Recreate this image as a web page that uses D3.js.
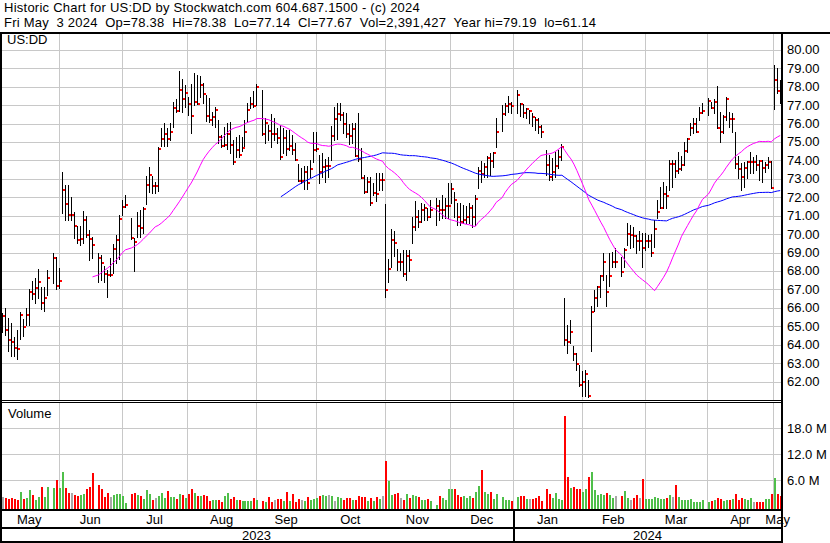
<!DOCTYPE html>
<html><head><meta charset="utf-8">
<script src="https://cdn.jsdelivr.net/npm/d3@7"></script>
<style>
body{margin:0;background:#fff}
svg{display:block}
text{font-family:"Liberation Sans",Arial,sans-serif;font-size:13px;fill:#000}
</style>
</head><body>
<svg id="c" width="830" height="543"></svg>
<script>
// ---------------- data ----------------
const startDate = [2023, 4, 5]; // first bar: Fri May 5 2023 (one slot per weekday, holidays = null)
const titleLine1 = "Historic Chart for US:DD by Stockwatch.com 604.687.1500 - (c) 2024";
const titleLine2 = "Fri May  3 2024  Op=78.38  Hi=78.38  Lo=77.14  Cl=77.67  Vol=2,391,427  Year hi=79.19  lo=61.14";
const symbolLabel = "US:DD";
const monthNames = ["Jan","Feb","Mar","Apr","May","Jun","Jul","Aug","Sep","Oct","Nov","Dec"];
const priceTicks = [62,63,64,65,66,67,68,69,70,71,72,73,74,75,76,77,78,79,80];
const volumeTicks = [6,12,18];

const highs = [
65.71,65.98,65.43,65.16,64.44,64.80,65.76,65.40,65.98,67.01,
67.44,67.64,68.11,67.15,67.13,68.07,null,68.96,68.76,68.16,
73.35,72.68,72.68,72.00,71.20,70.42,70.42,71.25,70.98,70.22,
69.83,null,69.00,68.85,68.29,68.05,68.71,69.45,69.95,71.04,
71.85,72.10,null,70.86,69.77,71.20,71.31,71.49,73.13,73.64,
73.13,72.84,74.71,75.74,76.01,75.74,76.01,77.16,77.34,78.84,
78.41,78.08,77.45,78.14,78.72,78.61,78.57,78.21,77.54,77.40,
76.60,76.91,76.19,75.37,75.83,76.01,76.06,75.10,75.25,75.37,
75.28,76.19,77.09,77.42,77.78,78.12,null,77.81,76.28,75.92,
76.50,76.28,75.74,75.92,75.77,75.65,75.65,75.37,74.92,73.78,
73.57,73.70,73.70,74.02,75.56,75.56,74.30,74.38,74.07,74.20,
75.88,76.91,77.09,77.09,76.64,76.55,76.00,76.01,76.01,76.59,
74.66,73.21,73.12,73.12,72.76,73.30,73.30,73.30,71.64,68.66,
70.27,70.14,69.18,68.97,69.15,69.15,69.15,70.95,71.77,71.31,
71.68,71.64,71.40,71.86,null,71.95,71.86,72.13,71.98,72.76,
72.76,72.31,71.68,71.68,71.59,71.50,71.68,71.59,72.13,73.66,
73.94,73.85,74.21,74.42,74.48,76.28,null,77.00,77.10,77.49,
77.19,null,77.82,77.13,77.06,76.82,76.73,76.55,76.37,76.28,
75.92,null,74.56,74.29,74.11,74.47,74.56,74.89,66.52,65.08,
65.35,63.90,63.54,62.91,62.55,62.64,62.10,66.07,66.98,67.16,
67.79,68.96,67.79,68.96,69.05,69.24,null,68.78,69.24,70.59,
70.50,70.41,69.96,70.14,70.05,70.05,69.96,70.01,70.77,71.85,
72.58,72.85,72.61,74.02,74.02,74.02,74.47,74.24,75.02,75.20,
76.05,76.28,76.28,76.91,77.09,null,77.37,77.19,77.31,78.03,
76.64,76.46,77.46,76.64,76.55,75.56,74.24,73.84,73.93,73.99,
74.47,74.20,74.29,74.02,74.02,73.93,74.17,73.97,79.19,78.99,
78.38];

const lows = [
64.71,64.53,63.63,63.41,63.41,63.23,64.31,64.49,65.09,65.09,
66.45,66.25,66.52,65.96,65.85,66.68,null,67.37,67.04,67.06,
71.13,70.77,70.77,70.77,69.81,69.54,69.41,69.54,69.86,68.61,
68.72,null,67.39,67.51,67.40,66.61,67.75,67.87,68.43,68.65,
71.04,71.49,null,69.72,68.02,69.83,69.84,70.04,71.63,72.27,
72.25,72.25,72.36,74.78,74.78,74.78,75.10,75.83,76.64,76.69,
76.64,76.91,76.46,75.46,77.00,77.04,77.45,77.09,76.12,76.10,
75.92,75.83,74.96,74.71,74.80,74.60,74.42,73.82,74.20,74.16,
74.50,74.78,76.08,76.86,76.87,77.00,null,75.37,74.92,75.10,
74.74,75.10,74.92,74.06,74.38,74.29,74.56,74.34,74.02,72.90,
72.75,72.43,72.43,73.12,73.93,74.53,72.75,73.12,72.84,73.12,
74.02,75.10,75.16,76.19,75.46,75.28,74.90,74.93,74.21,73.94,
73.03,72.25,72.31,71.59,72.13,71.77,72.40,72.40,66.58,67.38,
68.24,68.79,68.06,68.06,67.70,67.52,67.97,69.51,70.23,70.41,
70.68,70.77,70.77,70.90,null,70.50,70.77,70.86,70.86,70.86,
71.68,70.95,70.50,70.50,70.59,70.59,70.59,70.41,70.50,72.49,
72.85,73.12,73.12,73.21,73.66,74.71,null,75.61,76.46,76.63,
76.59,null,76.55,76.41,76.37,76.28,76.01,75.87,75.65,75.47,
75.25,null,73.21,72.94,72.94,73.12,73.57,74.02,64.00,63.54,
64.08,63.18,62.64,61.74,61.19,61.19,61.14,63.63,65.80,66.07,
66.61,67.52,66.07,67.16,68.24,68.24,null,67.70,68.24,69.41,
69.23,69.32,68.96,69.14,68.24,69.14,69.32,68.82,69.32,70.86,
71.40,71.40,71.40,72.40,72.58,73.12,73.30,73.48,73.75,74.47,
75.38,75.47,75.52,76.19,76.55,null,76.46,76.82,76.55,75.74,
75.02,75.47,76.19,75.83,75.56,73.57,73.03,72.40,72.58,73.03,
73.30,73.30,73.48,72.94,72.85,73.39,73.57,72.50,76.79,77.64,
77.14];

const closes = [
65.53,64.77,64.26,64.15,63.83,63.77,65.63,64.96,65.63,66.86,
66.75,67.10,67.40,66.27,66.54,67.64,null,68.72,67.19,67.46,
72.39,71.61,71.05,71.05,70.44,69.68,69.74,70.77,69.97,69.74,
69.41,null,68.72,68.45,67.86,67.78,67.78,69.19,69.70,70.82,
71.49,71.60,null,69.81,69.57,70.44,70.33,71.36,72.68,73.22,
72.63,72.63,74.60,75.17,75.43,75.17,75.56,76.86,76.69,77.83,
77.34,77.67,77.07,76.42,77.18,77.07,78.10,77.61,76.42,76.19,
76.37,76.75,75.28,74.80,74.85,75.45,74.85,73.93,74.56,74.31,
74.69,75.56,76.75,77.04,76.93,77.99,null,75.43,76.01,75.61,
75.45,75.45,75.23,74.20,75.23,74.60,74.80,74.56,74.04,72.90,
72.90,73.39,72.79,73.51,74.56,74.63,73.35,73.66,73.70,73.70,
75.32,76.26,76.51,76.48,75.95,75.45,75.34,75.71,74.26,74.08,
73.07,72.29,72.85,71.66,72.25,72.18,72.91,72.91,66.94,68.12,
69.69,69.54,68.46,68.46,67.85,68.80,68.57,70.41,70.90,70.63,
71.28,71.39,70.90,71.28,null,71.53,71.28,71.33,71.50,71.53,
72.47,71.84,70.92,70.65,70.74,70.90,71.44,70.95,71.93,73.43,
73.25,73.63,74.15,73.97,74.42,75.56,null,76.52,76.97,77.06,
76.97,null,77.56,77.06,76.59,76.77,76.68,76.37,76.19,75.83,
75.56,null,73.75,73.12,73.39,73.70,74.17,74.75,64.23,64.12,
64.66,63.51,62.96,61.79,61.95,62.39,61.19,65.75,66.51,67.12,
67.70,68.51,66.88,67.70,68.46,68.46,null,67.95,69.11,69.99,
69.96,69.92,69.65,69.65,69.22,69.65,69.65,69.00,70.30,71.20,
71.44,72.16,72.07,73.81,73.81,73.45,73.52,73.75,74.53,75.14,
75.74,75.97,75.56,76.55,76.70,null,77.24,76.86,77.19,75.78,
75.56,76.34,77.35,76.25,76.25,73.81,73.52,73.12,73.57,73.93,
73.93,73.93,73.75,73.99,73.57,73.75,73.93,72.52,78.36,77.78,
77.67];

// volume in millions of shares
const volumes = [
2.15,1.92,1.68,1.92,1.68,1.45,3.30,1.68,1.92,3.76,
2.60,1.45,2.15,4.45,2.15,4.45,null,4.22,6.07,4.22,
7.92,4.22,3.07,3.07,2.60,2.38,2.60,2.84,3.99,4.45,
7.68,null,4.91,3.99,2.15,3.07,2.15,2.60,2.84,2.84,
2.38,0.76,null,2.84,3.07,2.60,2.38,1.68,3.76,2.84,
1.45,1.92,2.38,3.07,1.92,3.53,2.15,2.15,1.68,2.84,
2.60,1.92,2.84,3.99,3.07,2.38,2.38,2.60,2.38,1.22,
1.45,1.45,1.45,0.99,2.38,3.07,1.68,2.15,1.45,1.45,
1.22,1.22,1.22,1.22,1.92,1.45,null,1.22,0.99,2.15,
0.99,1.45,1.68,1.68,1.22,3.30,1.22,2.84,0.99,1.68,
1.45,1.22,2.15,1.45,1.68,1.92,2.38,2.60,2.38,2.60,
2.38,1.22,2.15,1.92,1.45,1.92,1.92,1.45,1.45,2.38,
2.15,2.15,1.22,1.92,1.22,2.15,1.68,2.38,10.45,5.84,
2.60,2.84,3.07,1.92,1.45,2.84,1.92,2.60,2.38,2.15,
1.45,1.45,1.68,1.22,null,0.30,2.38,1.92,1.45,3.99,
3.99,3.99,2.60,2.15,2.38,1.92,2.38,1.92,3.30,4.68,
8.38,3.30,2.84,3.30,1.68,2.84,null,2.15,1.45,1.45,
1.22,null,2.15,2.38,2.38,1.68,1.68,1.68,1.92,2.38,
1.22,null,3.99,2.84,1.92,3.07,1.68,1.45,20.84,6.76,
4.22,4.45,3.99,3.99,3.30,3.99,6.76,7.92,3.76,2.61,
2.84,2.61,3.07,2.61,1.92,2.38,null,2.38,3.53,1.92,
1.45,1.92,2.61,1.92,6.30,1.68,1.68,1.68,2.15,1.92,
1.68,1.68,1.92,2.61,2.15,4.92,2.15,1.45,1.45,1.45,
1.68,0.99,0.99,0.99,1.45,null,0.99,1.22,1.45,1.92,
1.68,1.22,1.45,1.45,1.68,2.84,1.45,1.92,1.68,1.45,
1.92,0.99,0.99,0.99,0.99,1.68,1.68,2.84,6.53,2.84,
2.39];

// volume bar colour per slot: u = up (green), d = down (red), n = unchanged (grey), _ = holiday
const volumeDirection = [
"nddddduduu","duuduu_udu","uddndduudd","d_ddddnuuu","uu_dduduuu",
"dnuuuduudu","duddududdd","uudduuddud","uuuudu_dud","dnddududdd",
"nuduuuduun","unuudddudd","ddududundu","uddnduduud","uudu_uduuu",
"uddduuuduu","duuduu_uuu","d_uddunddd","d_dduuuudd","uddduuduuu",
"uuduun_duu","nddnduuuuu","uudunduuuu","uuuuu_udud","duududdduu",
"unddduudud","d"].join("");

const maShortDays = 30;  // magenta average
const maLongDays = 90;   // blue average

// ---------------- layout ----------------
const svg = d3.select("#c");
const N = closes.length;
const plotL = 1, plotR = 782;
const priceTop = 34, priceBottom = 400;
const volTop = 403, volBottom = 509;

svg.append("rect").attr("width",830).attr("height",543).attr("fill","#fff");

// weekday calendar for the slots
const dates = [];
{
  const d = new Date(startDate[0], startDate[1], startDate[2]);
  while (dates.length < N) {
    const wd = d.getDay();
    if (wd !== 0 && wd !== 6) dates.push(new Date(d));
    d.setDate(d.getDate() + 1);
  }
}

const x = d3.scaleLinear().domain([0, N - 1]).range([2.3, 779.7]);
const yP = d3.scaleLinear().domain([62, 80]).range([381.5, 49.8]);
const yV = d3.scaleLinear().domain([0, 18]).range([506.3, 428.3]);

// month boundaries
const bounds = [];
for (let i = 1; i < N; i++) {
  if (dates[i].getMonth() !== dates[i-1].getMonth()) {
    const first = new Date(dates[i].getFullYear(), dates[i].getMonth(), 1).getDay();
    const weekendStart = (first === 0 || first === 6);
    bounds.push({i, gx: x(i) - (weekendStart ? 3 : 0.5), month: dates[i].getMonth(), year: dates[i].getFullYear()});
  }
}
const gxs = bounds.map(b => Math.round(b.gx) + 0.5);

const grid = svg.append("g").attr("stroke","#c8c8c8").attr("stroke-width",1).attr("shape-rendering","crispEdges");
grid.selectAll(null).data(priceTicks).join("line")
  .attr("x1",plotL).attr("x2",plotR).attr("y1",d=>Math.round(yP(d))+0.5).attr("y2",d=>Math.round(yP(d))+0.5);
grid.selectAll(null).data(volumeTicks).join("line")
  .attr("x1",plotL).attr("x2",plotR).attr("y1",d=>Math.round(yV(d))+0.5).attr("y2",d=>Math.round(yV(d))+0.5);
grid.selectAll(null).data(gxs).join("line")
  .attr("x1",d=>d).attr("x2",d=>d).attr("y1",priceTop).attr("y2",priceBottom);
grid.selectAll(null).data(gxs).join("line")
  .attr("x1",d=>d).attr("x2",d=>d).attr("y1",volTop).attr("y2",volBottom);

svg.append("clipPath").attr("id","pc").append("rect")
  .attr("x",plotL).attr("y",priceTop).attr("width",plotR-plotL).attr("height",priceBottom-priceTop);

const idx = d3.range(N).filter(i => closes[i] != null);

// price bars
const bars = svg.append("g").attr("clip-path","url(#pc)").attr("shape-rendering","crispEdges");
bars.selectAll("line").data(idx).join("line")
  .attr("x1",i=>Math.round(x(i))+0.5).attr("x2",i=>Math.round(x(i))+0.5)
  .attr("y1",i=>Math.round(yP(highs[i]))).attr("y2",i=>Math.round(yP(lows[i]))+1)
  .attr("stroke","#000").attr("stroke-width",1);
bars.selectAll("rect").data(idx).join("rect")
  .attr("x",i=>Math.round(x(i))+1).attr("y",i=>Math.round(yP(closes[i]))-1)
  .attr("width",2).attr("height",2).attr("fill","#ff0000");

// moving averages over trading days
function sma(n){
  const out=[], buf=[];
  idx.forEach(i=>{ buf.push(closes[i]); if(buf.length>n) buf.shift(); if(buf.length===n) out.push([i, d3.mean(buf)]); });
  return out;
}
const line = d3.line().x(d=>x(d[0])+0.5).y(d=>yP(d[1]));
const maG = svg.append("g").attr("clip-path","url(#pc)");
maG.append("path").attr("d",line(sma(maLongDays))).attr("fill","none").attr("stroke","#0000ff").attr("stroke-width",1);
maG.append("path").attr("d",line(sma(maShortDays))).attr("fill","none").attr("stroke","#ff00ff").attr("stroke-width",1);

// volume bars
const colorOf = {u:"#4fbf4a", d:"#ff0000", n:"#a8a8a8"};
svg.append("g").attr("shape-rendering","crispEdges").selectAll("rect")
  .data(d3.range(N).filter(i=>volumes[i]!=null)).join("rect")
  .attr("x",i=>Math.round(x(i))).attr("width",2)
  .attr("y",i=>Math.round(yV(volumes[i])))
  .attr("height",i=>volBottom - Math.round(yV(volumes[i])))
  .attr("fill",i=>colorOf[volumeDirection[i]] || "#4fbf4a");

// ---------------- frames ----------------
const fr = svg.append("g").attr("stroke","#000").attr("shape-rendering","crispEdges");
fr.append("line").attr("x1",0).attr("x2",830).attr("y1",33).attr("y2",33).attr("stroke-width",2);
fr.append("line").attr("x1",1).attr("x2",1).attr("y1",32).attr("y2",543).attr("stroke-width",2);
fr.append("line").attr("x1",782).attr("x2",782).attr("y1",32).attr("y2",543).attr("stroke-width",2);
fr.append("line").attr("x1",0).attr("x2",782).attr("y1",400.5).attr("y2",400.5).attr("stroke-width",1);
fr.append("line").attr("x1",0).attr("x2",782).attr("y1",402.5).attr("y2",402.5).attr("stroke-width",1);
fr.append("line").attr("x1",0).attr("x2",782).attr("y1",510).attr("y2",510).attr("stroke-width",2);
fr.append("line").attr("x1",0).attr("x2",782).attr("y1",527.5).attr("y2",527.5).attr("stroke-width",2);
fr.append("line").attr("x1",0).attr("x2",782).attr("y1",542).attr("y2",542).attr("stroke-width",2);
const janB = bounds.find(b => b.month === 0);
fr.append("line").attr("x1",Math.round(janB.gx)+0.5).attr("x2",Math.round(janB.gx)+0.5).attr("y1",510).attr("y2",542).attr("stroke-width",2);

// ---------------- texts ----------------
svg.append("text").attr("x",4).attr("y",12).attr("letter-spacing",0.25).text(titleLine1);
svg.append("text").attr("x",4).attr("y",27).attr("letter-spacing",0.22).style("white-space","pre").text(titleLine2);
svg.append("text").attr("x",7).attr("y",44).text(symbolLabel);
svg.append("text").attr("x",8).attr("y",418).text("Volume");

svg.append("g").selectAll("text").data(priceTicks).join("text")
  .attr("x",787).attr("y",d=>yP(d)+4.5).text(d=>d3.format(".2f")(d));
svg.append("g").selectAll("text").data(volumeTicks).join("text")
  .attr("x",787).attr("y",d=>yV(d)+4.5).text(d=>d3.format(".1f")(d)+" M");

// month labels centred in each visible month span
const spans = [];
let prevX = 0, prevM = dates[0].getMonth();
bounds.forEach(b => { spans.push({m: prevM, a: prevX, b: b.gx}); prevX = b.gx; prevM = b.month; });
spans.push({m: prevM, a: prevX, b: plotR});
svg.append("g").selectAll("text").data(spans).join("text")
  .attr("x",d=>(d.a+d.b)/2).attr("y",523.5).attr("text-anchor","middle").text(d=>monthNames[d.m]);

const years = [{y: dates[0].getFullYear(), a: 0, b: janB.gx}, {y: janB.year, a: janB.gx, b: plotR}];
svg.append("g").selectAll("text").data(years).join("text")
  .attr("x",d=>(d.a+d.b)/2).attr("y",539.5).attr("text-anchor","middle").text(d=>d.y);
</script>
</body></html>
